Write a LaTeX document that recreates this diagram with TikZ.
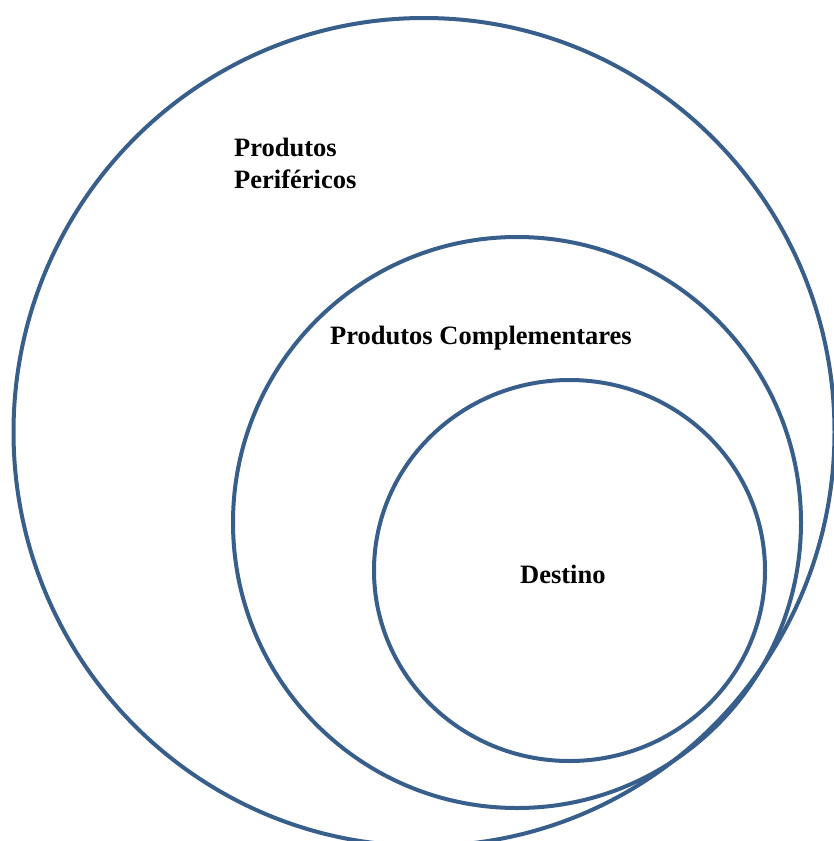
\documentclass[tikz,border=0pt]{standalone}
\usepackage{fontspec}
\setmainfont{Liberation Serif}
\definecolor{ringblue}{RGB}{56,94,140}
\begin{document}
\begin{tikzpicture}[x=1pt,y=-1pt,
  ring/.style={draw=ringblue,line width=4pt},
  lbl/.style={inner sep=0pt,anchor=base west,font=\fontsize{26.5}{32.5}\selectfont\bfseries,align=left}]
\useasboundingbox (0,0) rectangle (833,841);
\draw[ring] (424,432) ellipse [x radius=410.5, y radius=414];
\draw[ring] (517,522.5) ellipse [x radius=284, y radius=285.5];
\draw[ring] (569.5,570.5) ellipse [x radius=195.5, y radius=190.5];
\node[lbl] (perif) at (234,188.5) {Produtos\\Periféricos};
\node[lbl] (compl) at (330,344) {Produtos Complementares};
\node[lbl] (dest) at (520,583.5) {Destino};
\end{tikzpicture}
\end{document}
